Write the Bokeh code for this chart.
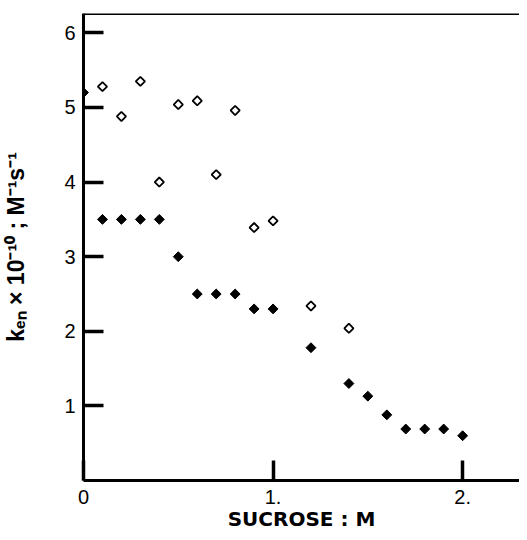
import math
from bokeh.plotting import figure
from bokeh.models import Range1d, FixedTicker, Span
from bokeh.embed import file_html
from bokeh.resources import INLINE

# Data
sucrose_open = [0.1, 0.2, 0.3, 0.4, 0.5, 0.6, 0.7, 0.8, 0.9, 1.0, 1.2, 1.4]
ken_open = [5.28, 4.88, 5.35, 4.0, 5.04, 5.09, 4.10, 4.96, 3.39, 3.48, 2.34, 2.04]

sucrose_filled = [0.0, 0.1, 0.2, 0.3, 0.4, 0.5, 0.6, 0.7, 0.8, 0.9, 1.0, 1.2, 1.4,
                  1.5, 1.6, 1.7, 1.8, 1.9, 2.0]
ken_filled = [5.2, 3.5, 3.5, 3.5, 3.5, 3.0, 2.5, 2.5, 2.5, 2.3, 2.3, 1.78, 1.3,
              1.13, 0.88, 0.69, 0.69, 0.69, 0.60]

x_ticks = [0, 1, 2]
x_tick_labels = {0: "0", 1: "1.", 2: "2."}
y_ticks = [1, 2, 3, 4, 5, 6]

X_END = 2.30
Y_END = 6.26

FONT = "Liberation Sans"

p = figure(
    frame_width=436, frame_height=467,
    min_border_left=82, min_border_right=0, min_border_top=13, min_border_bottom=58,
    x_range=Range1d(0, X_END), y_range=Range1d(0, Y_END),
    output_backend="svg", toolbar_location=None,
    x_axis_label="SUCROSE : M",
    y_axis_label="kₑₙ × 10⁻¹⁰ ; M⁻¹s⁻¹",
)
p.grid.visible = False
p.outline_line_color = None
p.background_fill_color = "white"
p.border_fill_color = "white"

for ax in (p.xaxis[0], p.yaxis[0]):
    ax.axis_line_width = 3
    ax.axis_line_color = "black"
    ax.major_tick_in = 20
    ax.major_tick_out = 0
    ax.major_tick_line_width = 3.5
    ax.major_tick_line_color = "black"
    ax.minor_tick_line_color = None
    ax.major_label_text_font = FONT
    ax.major_label_text_font_size = "20px"
    ax.major_label_text_color = "black"
    ax.axis_label_text_font_style = "bold"
    ax.axis_label_text_color = "black"

p.xaxis[0].ticker = FixedTicker(ticks=x_ticks)
p.xaxis[0].major_label_overrides = x_tick_labels
p.xaxis[0].major_label_standoff = 9
p.xaxis[0].axis_label_standoff = 0
p.xaxis[0].axis_label_text_font = "DejaVu Sans"
p.xaxis[0].axis_label_text_font_size = "20px"

p.yaxis[0].ticker = FixedTicker(ticks=y_ticks)
p.yaxis[0].major_label_standoff = 8
p.yaxis[0].axis_label_standoff = 32
p.yaxis[0].axis_label_text_font = FONT
p.yaxis[0].axis_label_text_font_size = "23px"

p.add_layout(Span(location=Y_END, dimension="width", line_color="black", line_width=3))

p.scatter(sucrose_open, ken_open, marker="square", angle=math.pi / 4, size=6.5,
          fill_color="white", line_color="black", line_width=1.8)
p.scatter(sucrose_filled, ken_filled, marker="square", angle=math.pi / 4, size=7,
          fill_color="black", line_color="black", line_width=1)

open("out.html", "w").write(file_html(p, INLINE))
